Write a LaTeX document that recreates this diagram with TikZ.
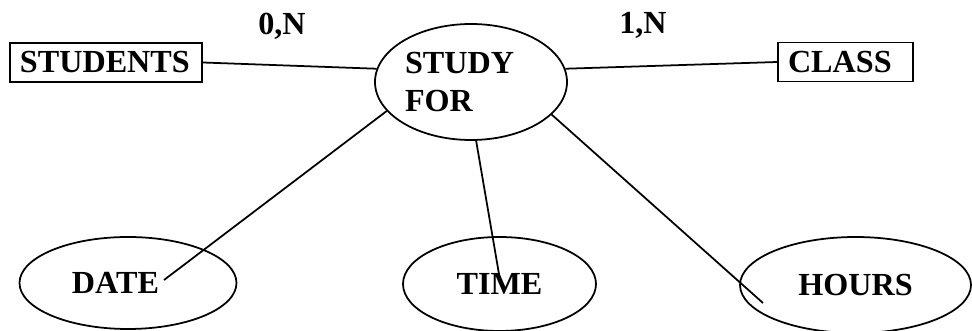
\documentclass[tikz,border=0pt]{standalone}
\usepackage{fontspec}
\setmainfont{Liberation Serif}
\usepackage{tikz}
\usetikzlibrary{shapes.geometric}
\usetikzlibrary{positioning}
\tikzstyle{entity} = [rectangle, draw=black, line width=1pt, inner xsep=0.2cm, inner ysep=0pt, minimum height=0.78cm, align=left]
\tikzstyle{relation} = [ellipse, draw=black, line width=1pt, inner sep=0pt, minimum width=3.84cm, minimum height=2.32cm, align=left]
\tikzstyle{attribute} = [ellipse, draw=black, line width=1pt, inner sep=0pt, align=center]
\tikzstyle{card} = [inner sep=0pt]
\tikzstyle{link} = [line width=1pt, -]

\begin{document}
\begin{tikzpicture}[node distance=2cm, font=\fontsize{18.3}{21.6}\selectfont\bfseries]
        \useasboundingbox (-9.42,-4.98) rectangle (10.02,1.64);
        \node (study) [relation, text width=2.64cm] at (0,0) {STUDY\\FOR};
        \node (students) [entity, left of=study, xshift=-5.3cm, yshift=0.39cm, text width=3.44cm] {STUDENTS};
        \node (class) [entity, right of=study, xshift=5.49cm, yshift=0.4cm, text width=2.3cm] {CLASS};
        \node (zeroN) [card, left of=study, xshift=-1.78cm, yshift=1.12cm] {0,N};
        \node (oneN) [card, right of=study, xshift=1.44cm, yshift=1.14cm] {1,N};
        \node (date) [attribute, below of=study, yshift=-2.02cm, xshift=-6.86cm, minimum width=4.34cm, minimum height=1.84cm, text width=2.24cm, align=left] {DATE};
        \node (time) [attribute, below of=study, yshift=-2.04cm, xshift=0.57cm, minimum width=3.86cm, minimum height=1.88cm] {TIME};
        \node (hours) [attribute, below of=study, yshift=-2.06cm, xshift=7.69cm, minimum width=4.62cm, minimum height=1.92cm] {HOURS};

        \coordinate (dateEnd) at ([xshift=0.72cm, yshift=0.06cm]date.center);
        \coordinate (timeEnd) at ([yshift=0.14cm]time.center);
        \coordinate (hoursEnd) at ([xshift=-1.85cm, yshift=-0.36cm]hours.center);

        \draw [link] (students.east) -- (study.172);
        \draw [link] (study.8) -- (class.west);
        \draw [link] (study.199) -- (dateEnd);
        \draw [link] (study.275) -- (timeEnd);
        \draw [link] (study.338) -- (hoursEnd);
    \end{tikzpicture}
\end{document}
